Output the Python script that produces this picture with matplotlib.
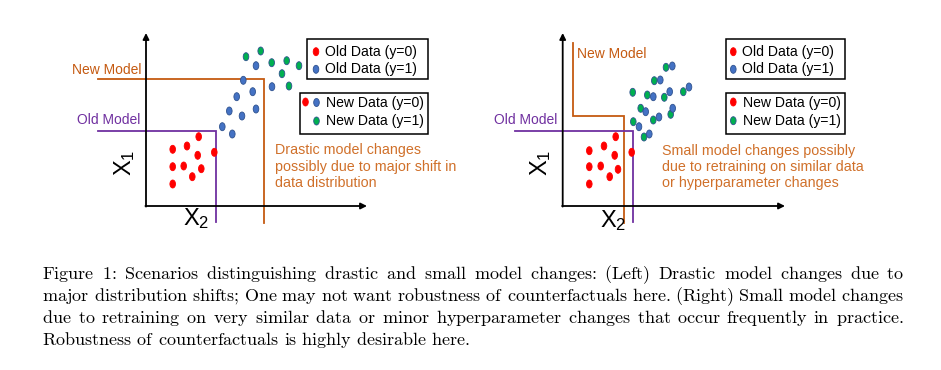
import matplotlib.pyplot as plt
from matplotlib.patches import Ellipse, Rectangle

plt.rcParams['font.family'] = ['Liberation Sans', 'DejaVu Sans']
plt.rcParams['mathtext.fontset'] = 'cm'

# scatter points (canvas pixels)
left_red_x = [172.7, 187, 198.7, 214.3, 197.7, 172.7, 183.7, 201.3, 192.3, 172.7]
left_red_y = [149.3, 146, 136.7, 152.3, 155.3, 166.7, 166, 168.7, 176.7, 184]
left_blue_x = [256, 243.3, 272, 252.7, 236.7, 229.3, 256, 242, 222.3, 232.3]
left_blue_y = [65.7, 80.3, 86.7, 91.7, 96.7, 111, 109, 116, 126.7, 134]
left_green_x = [246, 260.7, 271.7, 286.7, 299, 282, 289]
left_green_y = [56.7, 51, 62.7, 60.7, 65.7, 73.7, 86]

right_red_x = [615.7, 604, 589.3, 631.7, 614.7, 589.3, 600.7, 618, 609.7, 589.3]
right_red_y = [136.7, 146, 150.7, 152.3, 155.3, 166.7, 166, 169.3, 176.7, 184]
right_green_x = [666, 654.3, 632.7, 647.3, 664.3, 683.3, 640.7, 653.3, 670.7, 633.3, 644]
right_green_y = [67.3, 80.7, 92.3, 95, 97.3, 91.7, 108.3, 120, 114.3, 121.7, 137]
right_blue_x = [672.3, 660.3, 653.3, 669.7, 689, 645.7, 659, 672.7, 639, 649.3]
right_blue_y = [66, 80, 96.7, 91.7, 87, 111.7, 117, 108.3, 126.7, 134]

legend_old = ["Old Data (y=0)", "Old Data (y=1)"]
legend_new = ["New Data (y=0)", "New Data (y=1)"]
note_left = "Drastic model changes\npossibly due to major shift in\ndata distribution"
note_right = "Small model changes possibly\ndue to retraining on similar data\nor hyperparameter changes"

caption = [
    "Figure 1: Scenarios distinguishing drastic and small model changes: (Left) Drastic model changes due to",
    "major distribution shifts; One may not want robustness of counterfactuals here. (Right) Small model changes",
    "due to retraining on very similar data or minor hyperparameter changes that occur frequently in practice.",
    "Robustness of counterfactuals is highly desirable here.",
]

RED = '#FF0000'
BLUE = '#4472C4'
GREEN = '#00B050'
EDGE = '#2F528F'
ORANGE = '#C55A11'
NOTE = '#D0702A'
PURPLE = '#7030A0'

fig = plt.figure(figsize=(9.41, 3.70), dpi=100)
ax = fig.add_axes([0, 0, 1, 1])
ax.set_xlim(0, 941)
ax.set_ylim(370, 0)
ax.axis('off')


def dots(xs, ys, color, edge=None):
    for x, y in zip(xs, ys):
        ax.add_patch(Ellipse((x, y), 5.6, 8.0, facecolor=color,
                             edgecolor=edge if edge else color, lw=0.6, zorder=4))


def axes_arrows(ox, oy, top, right):
    kw = dict(arrowstyle='-|>', lw=1.3, color='black', mutation_scale=9,
              shrinkA=0, shrinkB=0)
    ax.annotate('', xy=(ox, top), xytext=(ox, oy + 0.6), arrowprops=kw)
    ax.annotate('', xy=(right, oy), xytext=(ox - 0.6, oy), arrowprops=kw)


def legend_boxes(x0, x1, tx_old, tx_new, left_new):
    ax.add_patch(Rectangle((x0, 38.5), x1 - x0, 40.5, fill=False, lw=1.1, ec='black'))
    ax.add_patch(Rectangle((left_new, 92.5), x1 - left_new, 41.5, fill=False, lw=1.1, ec='black'))
    for lab, y in zip(legend_old, [52, 69.5]):
        ax.text(tx_old, y, lab, fontsize=10.1, va='center')
    for lab, y in zip(legend_new, [103, 120.5]):
        ax.text(tx_new, y, lab, fontsize=10.1, va='center')


# ---- left panel
axes_arrows(146, 206, 33, 367)
ax.plot([98, 264, 264], [79.3, 79.3, 222.7], color=ORANGE, lw=1.3, solid_joinstyle='miter')
ax.plot([98, 216, 216], [130.7, 130.7, 221.7], color=PURPLE, lw=1.3, solid_joinstyle='miter')
ax.text(106.5, 69.5, "New Model", color=ORANGE, fontsize=10, ha='center', va='center')
ax.text(109, 120, "Old Model", color=PURPLE, fontsize=10, ha='center', va='center')
dots(left_red_x, left_red_y, RED)
dots(left_blue_x, left_blue_y, BLUE, EDGE)
dots(left_green_x, left_green_y, GREEN, EDGE)
legend_boxes(307.5, 428.5, 325, 326.5, 300)
dots([316], [51.7], RED)
dots([316], [69.3], BLUE, EDGE)
dots([305.5], [102], RED)
dots([316.5], [102.5], BLUE, EDGE)
dots([316.5], [121], GREEN, EDGE)
ax.text(275, 166.5, note_left, color=NOTE, fontsize=10.3, va='center', linespacing=1.2)
ax.text(125, 163, r"$\mathregular{X_1}$", fontsize=17, rotation=90, ha='center', va='center')
ax.text(196, 219, r"$\mathregular{X_2}$", fontsize=17, ha='center', va='center')

# ---- right panel
axes_arrows(562.7, 206, 33, 785)
ax.plot([573.3, 573.3, 624, 624], [42.7, 116, 116, 222.7], color=ORANGE, lw=1.3, solid_joinstyle='miter')
ax.plot([515, 632.7, 632.7], [130.7, 130.7, 221.7], color=PURPLE, lw=1.3, solid_joinstyle='miter')
ax.text(612, 53.5, "New Model", color=ORANGE, fontsize=10, ha='center', va='center')
ax.text(525.5, 120, "Old Model", color=PURPLE, fontsize=10, ha='center', va='center')
dots(right_red_x, right_red_y, RED)
dots(right_green_x, right_green_y, GREEN, EDGE)
dots(right_blue_x, right_blue_y, BLUE, EDGE)
legend_boxes(725.7, 845, 741.7, 743.3, 725.7)
dots([733.3], [51.7], RED)
dots([733.3], [69.3], BLUE, EDGE)
dots([733.3], [102], RED)
dots([733.3], [120.7], GREEN, EDGE)
ax.text(661.7, 167, note_right, color=NOTE, fontsize=10.3, va='center', linespacing=1.2)
ax.text(541, 163, r"$\mathregular{X_1}$", fontsize=17, rotation=90, ha='center', va='center')
ax.text(613, 221, r"$\mathregular{X_2}$", fontsize=17, ha='center', va='center')

# ---- caption: Computer Modern words (mathtext \text), justified like LaTeX
fig.canvas.draw()
renderer = fig.canvas.get_renderer()
x_left, x_right = 43, 903
baselines = [279, 301, 323, 345]


def cm(word):
    return r"$\text{" + word + "}$"


def box_width(s, size):
    t = ax.text(0, 0, cm(s), fontsize=size)
    w = t.get_window_extent(renderer).width
    t.remove()
    return w


def advances(words, size):
    # the box of a mathtext string carries a fixed padding; take it off
    pad = 2 * box_width("m", size) - box_width("mm", size)
    return [box_width(w, size) - pad for w in words], pad


# font size: widest line should fit with a normal 0.333em interword space
size0 = 13.7
fits = []
for line in caption[:3]:
    words = line.split()
    adv, _ = advances(words, size0)
    em_px = size0 * 100 / 72
    fits.append(size0 * (x_right - x_left) / (sum(adv) + (len(words) - 1) * 0.333 * em_px))
cap_size = min(size0, min(fits))
normal_space = 0.333 * cap_size * 100 / 72

for i, (line, yb) in enumerate(zip(caption, baselines)):
    words = line.split()
    adv, pad = advances(words, cap_size)
    space = normal_space
    if i < len(caption) - 1:
        space = (x_right - x_left - sum(adv)) / (len(words) - 1)
    x = x_left - pad / 2
    for w, a in zip(words, adv):
        ax.text(x, yb, cm(w), fontsize=cap_size, va='baseline')
        x += a + space

fig.savefig('out.png', dpi=100)
